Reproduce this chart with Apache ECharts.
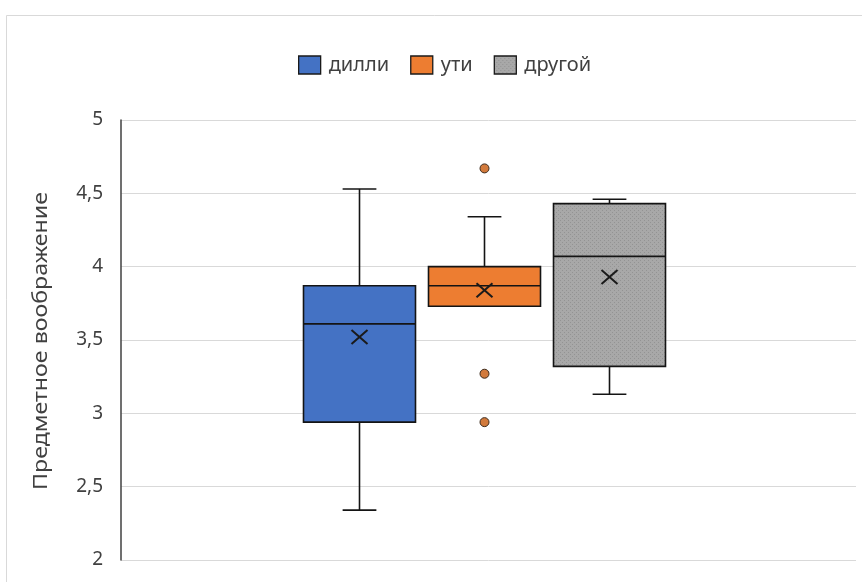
<!DOCTYPE html>
<html>
<head>
<meta charset="utf-8">
<script src="https://cdn.jsdelivr.net/npm/echarts@6/dist/echarts.min.js"></script>
<style>
  html, body { margin: 0; padding: 0; background: #ffffff; }
  #chart { width: 862px; height: 582px; }
</style>
</head>
<body>
<div id="chart"></div>
<script>
// Five-number summaries per group, plus means and outlying points
const groups = ['дилли', 'ути', 'другой'];
const whiskerLow = [2.34, 3.73, 3.13];
const quartile1 = [2.94, 3.73, 3.32];
const medians = [3.61, 3.87, 4.07];
const quartile3 = [3.87, 4.00, 4.43];
const whiskerHigh = [4.53, 4.34, 4.46];
const means = [3.52, 3.84, 3.93];
const outliers = [[], [4.67, 3.27, 2.94], []];
const yTicks = [2, 2.5, 3, 3.5, 4, 4.5, 5];
const yTitle = 'Предметное воображение';

const FONT = '"Noto Sans", "Open Sans", sans-serif';

// Stippled grey fill for the third box
function stipple() {
  const c = document.createElement('canvas');
  c.width = 4; c.height = 4;
  const g = c.getContext('2d');
  g.fillStyle = '#a8a8a8';
  g.fillRect(0, 0, 4, 4);
  g.fillStyle = '#939393';
  g.fillRect(0, 0, 1, 1);
  g.fillRect(2, 2, 1, 1);
  return { image: c, repeat: 'repeat' };
}
const fills = ['#4472C4', '#ED7D31', stipple()];

// Layout of the box slots along the hidden horizontal axis (1 unit per slot)
const SLOT_MIN = -0.908, SLOT_MAX = 4.972;
const BOX_WIDTH = 0.896, CAP_WIDTH = 0.27;
const slotOf = i => i + 1;

function renderBox(params, api) {
  const x = api.value(0);
  const lo = api.coord([x, api.value(1)]);
  const q1 = api.coord([x, api.value(2)]);
  const md = api.coord([x, api.value(3)]);
  const q3 = api.coord([x, api.value(4)]);
  const hi = api.coord([x, api.value(5)]);
  const mn = api.coord([x, api.value(6)]);
  const hb = api.size([BOX_WIDTH, 0])[0] / 2;
  const hc = api.size([CAP_WIDTH, 0])[0] / 2;
  const cx = lo[0];
  const ink = { stroke: '#141414', lineWidth: 1.6, fill: null };
  const line = (x1, y1, x2, y2, st) => ({ type: 'line', shape: { x1, y1, x2, y2 }, style: st || ink });
  return {
    type: 'group',
    children: [
      line(cx, q3[1], cx, hi[1]),
      line(cx - hc, hi[1], cx + hc, hi[1]),
      line(cx, q1[1], cx, lo[1]),
      line(cx - hc, lo[1], cx + hc, lo[1]),
      {
        type: 'rect',
        shape: { x: cx - hb, y: q3[1], width: 2 * hb, height: q1[1] - q3[1] },
        style: { fill: fills[params.seriesIndex], stroke: '#141414', lineWidth: 1.6 }
      },
      line(cx - hb, md[1], cx + hb, md[1]),
      line(mn[0] - 8, mn[1] - 7, mn[0] + 8, mn[1] + 7, { stroke: '#1a1a1a', lineWidth: 2 }),
      line(mn[0] - 8, mn[1] + 7, mn[0] + 8, mn[1] - 7, { stroke: '#1a1a1a', lineWidth: 2 })
    ]
  };
}

const boxSeries = groups.map((name, i) => ({
  name,
  type: 'custom',
  renderItem: renderBox,
  itemStyle: { color: i === 2 ? '#a5a5a5' : fills[i] },
  encode: { x: 0, y: [1, 2, 3, 4, 5, 6] },
  data: [[slotOf(i), whiskerLow[i], quartile1[i], medians[i], quartile3[i], whiskerHigh[i], means[i]]],
  z: 3
}));

const outlierSeries = groups.map((name, i) => ({
  name,
  type: 'scatter',
  symbol: 'circle',
  symbolSize: 9,
  itemStyle: { color: '#d27a3c', borderColor: '#3b2a1c', borderWidth: 1, opacity: 1 },
  data: outliers[i].map(v => [slotOf(i), v]),
  z: 4
})).filter(s => s.data.length);

const chart = echarts.init(document.getElementById('chart'), null, { renderer: 'canvas' });
chart.setOption({
  animation: false,
  backgroundColor: '#ffffff',
  graphic: [{
    type: 'rect',
    shape: { x: 6.5, y: 15.5, width: 900, height: 620 },
    style: { fill: null, stroke: '#d9d9d9', lineWidth: 1 },
    silent: true, z: -10
  }, {
    // vertical axis title, set slightly wide along its baseline
    type: 'text',
    x: 42,
    y: 341,
    rotation: Math.PI / 2,
    scaleX: 1.22,
    style: {
      text: yTitle,
      font: '19px ' + FONT,
      fill: '#404040',
      align: 'center',
      verticalAlign: 'middle'
    },
    silent: true
  }],
  legend: {
    left: 293,
    top: 50,
    itemWidth: 22,
    itemHeight: 18,
    itemGap: 21,
    icon: 'rect',
    textStyle: { fontFamily: FONT, fontSize: 20, color: '#404040', padding: [0, 0, 0, 3] },
    data: groups.map((g, i) => ({
      name: g,
      itemStyle: { color: fills[i], borderColor: '#1a1a1a', borderWidth: 1.3 }
    }))
  },
  grid: { left: 121, right: 6, top: 120, bottom: 22, containLabel: false },
  xAxis: {
    type: 'value',
    min: SLOT_MIN,
    max: SLOT_MAX,
    show: false
  },
  yAxis: {
    type: 'value',
    min: yTicks[0],
    max: yTicks[yTicks.length - 1],
    interval: 0.5,
    axisLine: { show: true, onZero: false, lineStyle: { color: '#404040', width: 1.5 } },
    axisTick: { show: false },
    axisLabel: {
      fontFamily: FONT, fontSize: 19, color: '#404040', margin: 18,
      formatter: v => String(v).replace('.', ',')
    },
    splitLine: { show: true, lineStyle: { color: '#d9d9d9', width: 1 } }
  },
  series: boxSeries.concat(outlierSeries)
});
</script>
</body>
</html>
